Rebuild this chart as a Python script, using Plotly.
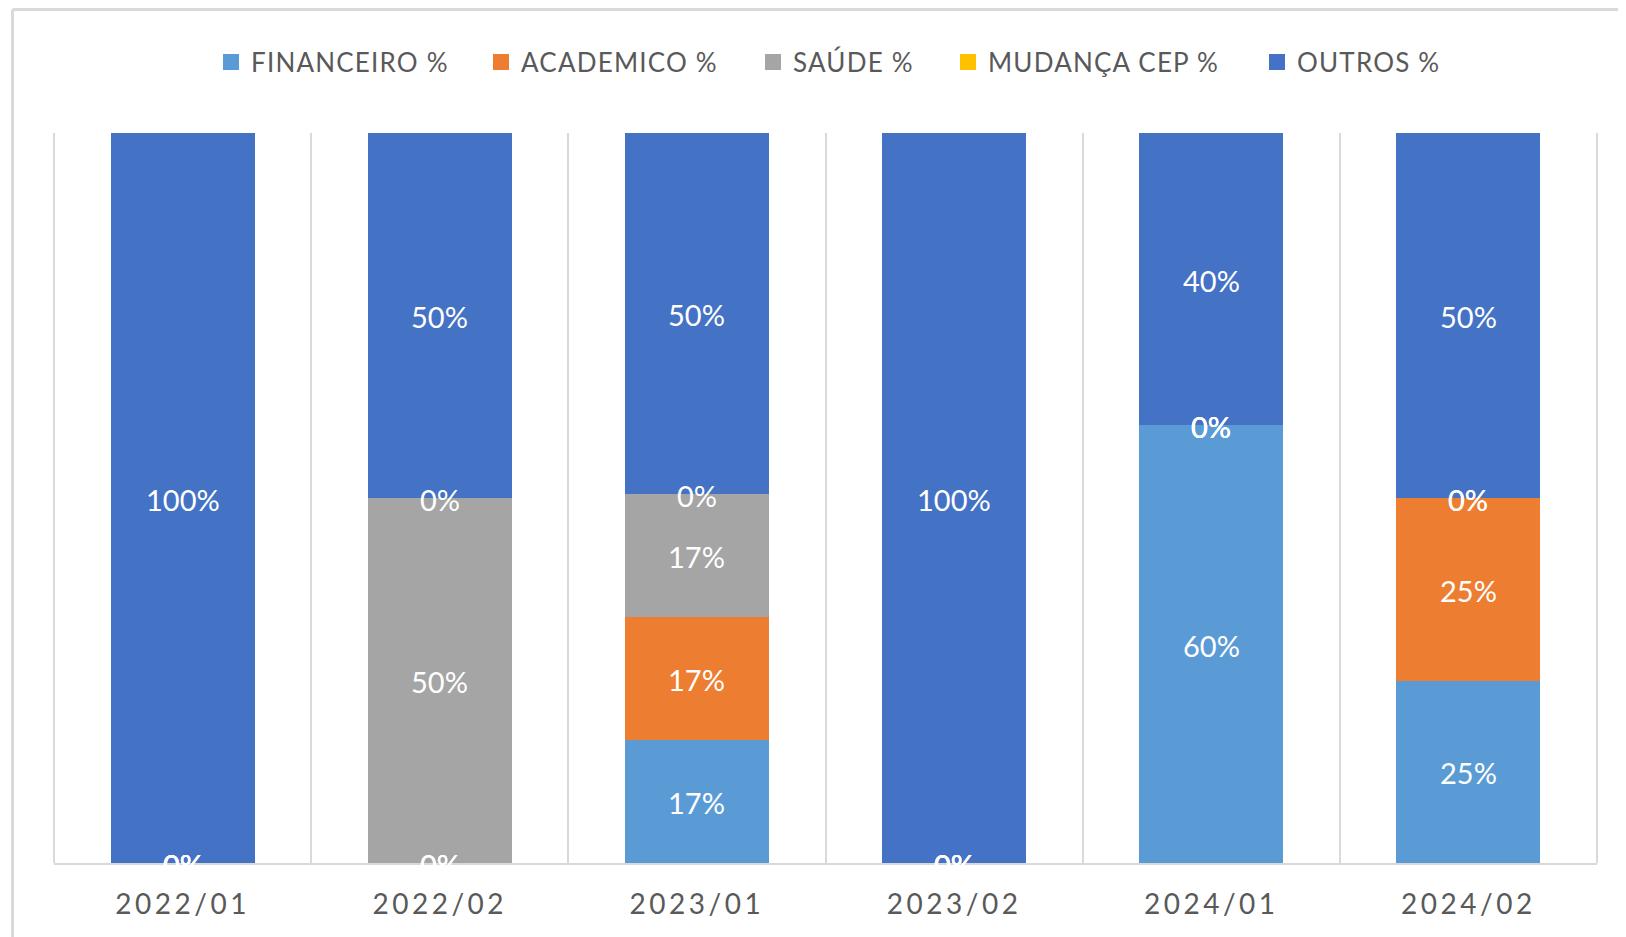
import plotly.graph_objects as go

categories = ["2022/01", "2022/02", "2023/01", "2023/02", "2024/01", "2024/02"]
financeiro = [0, 0, 17, 0, 60, 25]
academico = [0, 0, 17, 0, 0, 25]
saude = [0, 50, 17, 0, 0, 0]
mudanca_cep = [0, 0, 0, 0, 0, 0]
outros = [100, 50, 50, 100, 40, 50]

series_names = ["FINANCEIRO %", "ACADEMICO %", "SAÚDE %", "MUDANÇA CEP %", "OUTROS %"]
series_values = [financeiro, academico, saude, mudanca_cep, outros]
series_colors = ["#5B9BD5", "#ED7D31", "#A5A5A5", "#FFC000", "#4472C4"]

# page body has an 8px margin, so figure coords = screen coords - 8
OFF = 8
W, H = 1626 - OFF, 937 - OFF
ML, MT = 54 - OFF, 133 - OFF
MR = W - (1597 - OFF)
MB = H - (863 - OFF)
pw = W - ML - MR
ph = H - MT - MB

def px_x(sx):
    return (sx - OFF - ML) / pw

def px_y(sy):
    return 1 - (sy - OFF - MT) / ph

fig = go.Figure()
for name, vals, col in zip(series_names, series_values, series_colors):
    fig.add_trace(go.Bar(
        x=categories, y=vals, name=name, showlegend=False,
        marker=dict(color=col, line=dict(width=0)),
        hoverinfo="skip",
    ))

# data labels at segment centres (normalised to 100%)
totals = [sum(v[i] for v in series_values) for i in range(len(categories))]
cum = [0.0] * len(categories)
annotations = []
for vals in series_values:
    for i, v in enumerate(vals):
        share = v / totals[i] * 100
        annotations.append(dict(
            x=categories[i], y=cum[i] + share / 2, xref="x", yref="y",
            text=f"{v}%", showarrow=False, yshift=-1,
            xanchor="center", yanchor="middle",
            font=dict(family="Lato", size=29, color="white"),
        ))
        cum[i] += share

# legend entries, each in its own legend placed like the reference
legend_marker_left = [225, 495, 767, 962, 1271]
legend_layouts = {}
for k, (name, col, mx) in enumerate(zip(series_names, series_colors, legend_marker_left)):
    lname = "legend" if k == 0 else f"legend{k + 1}"
    fig.add_trace(go.Scatter(
        x=[None], y=[None], mode="markers", legend=lname,
        name=f'<span style="letter-spacing:1.2px">{name}</span>',
        marker=dict(symbol="square", size=17, color=col, line=dict(width=0)),
        hoverinfo="skip",
    ))
    legend_layouts[lname] = dict(
        orientation="h", x=px_x(mx - 14), xanchor="left",
        y=px_y(62), yanchor="middle", itemsizing="trace",
        font=dict(family="Lato", size=26, color="#595959"),
        itemclick=False, itemdoubleclick=False, bgcolor="rgba(0,0,0,0)",
    )

grey = "#D9D9D9"
# outer chart-area frame (cropped on the right and bottom)
fx0 = px_x(12.5)
fy1 = px_y(9.5)
fig.add_shape(type="line", xref="paper", yref="paper", x0=fx0, x1=1.05, y0=fy1, y1=fy1,
              line=dict(color=grey, width=3))
fig.add_shape(type="line", xref="paper", yref="paper", x0=fx0, x1=fx0, y0=-0.2, y1=fy1,
              line=dict(color=grey, width=3))
# category divider lines at the plot-area edges
for xe in (0, 1):
    fig.add_shape(type="line", xref="paper", yref="paper", x0=xe, x1=xe, y0=0, y1=1,
                  line=dict(color=grey, width=2), layer="below")

fig.update_layout(
    width=W, height=H,
    margin=dict(l=ML, r=MR, t=MT, b=MB, pad=0, autoexpand=False),
    barmode="stack", barnorm="percent", bargap=0.44,
    paper_bgcolor="white", plot_bgcolor="white",
    showlegend=True,
    annotations=annotations,
    xaxis=dict(
        type="category", range=[-0.5, 5.5],
        tickmode="array", tickvals=categories,
        ticktext=[f'<span style="letter-spacing:3.5px">{c}</span>' for c in categories],
        tickson="boundaries", ticks="",
        showgrid=True, gridcolor=grey, gridwidth=2,
        showline=True, linecolor=grey, linewidth=2,
        tickfont=dict(family="Lato", size=28, color="#595959"),
        ticklabelstandoff=15, fixedrange=True,
    ),
    yaxis=dict(range=[0, 100], visible=False, showgrid=False, fixedrange=True),
    **legend_layouts,
)

fig.write_html("out.html")
